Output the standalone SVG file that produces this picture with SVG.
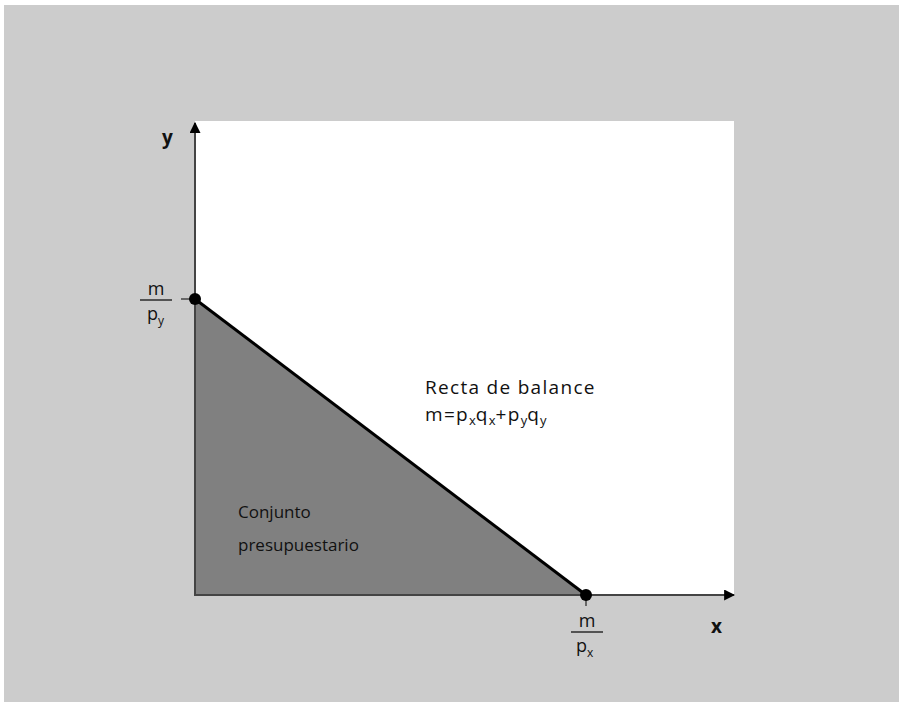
<svg xmlns="http://www.w3.org/2000/svg" width="899" height="702" viewBox="0 0 899 702">
<style>
text{font-family:"Open Sans","Liberation Sans",sans-serif;font-size:18px;fill:#111}
.sub{font-size:12px}
.ax{font-weight:bold;font-size:19px}
.big{font-size:19px;letter-spacing:1.3px}
.big .sub{font-size:13px;letter-spacing:0}
.small{font-size:17px}
.axis{stroke:#444;stroke-width:2;fill:none}
.tick{stroke:#444;stroke-width:1.5}
</style>
<defs>
<marker id="arr" viewBox="0 0 10 10" refX="9" refY="5" markerWidth="11" markerHeight="11" markerUnits="userSpaceOnUse" orient="auto">
<path d="M0,0 L10,5 L0,10 Z" fill="#000"/>
</marker>
</defs>
<rect x="4" y="5" width="895" height="697" fill="#cccccc"/>
<rect x="195" y="121" width="539" height="474" fill="#ffffff"/>
<g id="conjunto">
<polygon points="195,299 195,595 586,595" fill="#808080"/>
<text class="small" x="238" y="518">Conjunto</text>
<text class="small" x="238" y="551">presupuestario</text>
</g>
<g id="connectors">
<line class="axis" x1="195" y1="596" x2="195" y2="123" marker-end="url(#arr)"/>
<line class="axis" x1="194" y1="595" x2="734" y2="595" marker-end="url(#arr)"/>
<line class="tick" x1="181" y1="299" x2="195" y2="299"/>
<line class="tick" x1="586" y1="595" x2="586" y2="606"/>
<line x1="195" y1="299" x2="586" y2="595" stroke="#000" stroke-width="3"/>
</g>
<g id="axis-y">
<text class="ax" x="162" y="144">y</text>
</g>
<g id="axis-x">
<text class="ax" x="711" y="633">x</text>
</g>
<g id="point-y">
<circle cx="195" cy="299" r="6" fill="#000"/>
<text x="156" y="295" text-anchor="middle">m</text>
<line x1="140" y1="300" x2="172" y2="300" stroke="#111" stroke-width="1.3"/>
<text x="147" y="320">p<tspan class="sub" dy="5">y</tspan></text>
</g>
<g id="point-x">
<circle cx="586" cy="595" r="6" fill="#000"/>
<text x="587" y="627" text-anchor="middle">m</text>
<line x1="571" y1="632" x2="603" y2="632" stroke="#111" stroke-width="1.3"/>
<text x="576" y="652">p<tspan class="sub" dy="5">x</tspan></text>
</g>
<g id="recta">
<text class="big" x="425" y="394">Recta de balance</text>
<text class="big" x="425" y="421">m=p<tspan class="sub" dy="4">x</tspan><tspan dy="-4">q</tspan><tspan class="sub" dy="4">x</tspan><tspan dy="-4">+p</tspan><tspan class="sub" dy="4">y</tspan><tspan dy="-4">q</tspan><tspan class="sub" dy="4">y</tspan></text>
</g>
</svg>
